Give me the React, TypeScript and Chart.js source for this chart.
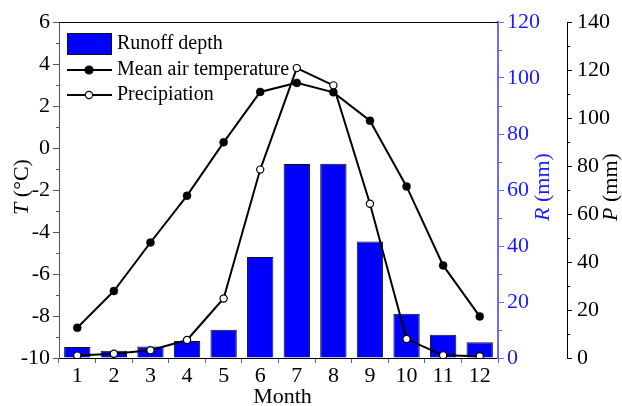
import React, { useEffect, useRef } from 'react';
import { Chart, registerables } from 'chart.js';

Chart.register(...registerables);

const months = ['1', '2', '3', '4', '5', '6', '7', '8', '9', '10', '11', '12'];
const runoffDepth = [3.9, 2.6, 4.1, 6.1, 10.1, 36.1, 69.3, 69.4, 41.6, 15.8, 8.3, 5.6];
const meanAirTemperature = [-8.56, -6.81, -4.5, -2.27, 0.27, 2.67, 3.1, 2.65, 1.3, -1.83, -5.59, -8.02];
const precipitation = [1.0, 1.8, 3.2, 7.5, 24.8, 78.5, 120.8, 113.6, 64.3, 7.9, 1.1, 0.7];
const seriesNames = ['Runoff depth', 'Mean air temperature', 'Precipiation'];
const tAxis = { min: -10, max: 6, step: 2 };
const rAxis = { min: 0, max: 120, step: 20 };
const pAxis = { min: 0, max: 140, step: 20 };

const FONT = '"Liberation Serif", "Times New Roman", serif';
const BLUE = '#0000ff';
const BLUE_TEXT = '#1a1aff';
const BLUE_AXIS = '#6b6bff';

const decorPlugin = {
  id: 'decor',
  afterDraw(chart: any) {
    const ctx = chart.ctx;
    const ca = chart.chartArea;
    const sT = chart.scales.y;
    const sR = chart.scales.yR;
    const sP = chart.scales.yP;
    ctx.save();
    // top frame line
    ctx.strokeStyle = '#000';
    ctx.lineWidth = 1;
    ctx.beginPath();
    ctx.moveTo(ca.left, ca.top + 0.5);
    ctx.lineTo(ca.right, ca.top + 0.5);
    ctx.stroke();

    // minor ticks
    const minor = (scale: any, ax: any, x: number, dir: number, color: string) => {
      ctx.strokeStyle = color;
      ctx.lineWidth = 1;
      for (let v = ax.min + ax.step / 2; v < ax.max; v += ax.step) {
        const y = Math.round(scale.getPixelForValue(v)) + 0.5;
        ctx.beginPath();
        ctx.moveTo(x, y);
        ctx.lineTo(x + dir * 3, y);
        ctx.stroke();
      }
    };
    minor(sT, tAxis, sT.right, -1, '#555');
    minor(sR, rAxis, sR.left + 1, 1, BLUE_AXIS);
    minor(sP, pAxis, sP.left, 1, '#000');

    // axis titles
    const midY = (ca.top + ca.bottom) / 2 - 3;
    const vTitle = (x: number, italic: string, rest: string, color: string) => {
      ctx.save();
      ctx.translate(x, midY);
      ctx.rotate(-Math.PI / 2);
      ctx.fillStyle = color;
      ctx.textBaseline = 'middle';
      ctx.font = `italic 22px ${FONT}`;
      const w1 = ctx.measureText(italic).width;
      ctx.font = `22px ${FONT}`;
      const w2 = ctx.measureText(rest).width;
      const start = -(w1 + w2) / 2;
      ctx.font = `italic 22px ${FONT}`;
      ctx.textAlign = 'left';
      ctx.fillText(italic, start, 0);
      ctx.font = `22px ${FONT}`;
      ctx.fillText(rest, start + w1, 0);
      ctx.restore();
    };
    vTitle(22, 'T', ' (°C)', '#000');
    vTitle(543, 'R', ' (mm)', BLUE_TEXT);
    vTitle(611, 'P', ' (mm)', '#000');

    ctx.fillStyle = '#000';
    ctx.font = `22px ${FONT}`;
    ctx.textAlign = 'center';
    ctx.textBaseline = 'middle';
    ctx.fillText('Month', (ca.left + ca.right) / 2 + 4, 397);

    // legend
    const lx = ca.left + 8;
    const tx = lx + 50;
    const r1 = ca.top + 22;
    const r2 = ca.top + 48;
    const r3 = ca.top + 73;
    ctx.fillStyle = BLUE;
    ctx.fillRect(lx, r1 - 11, 45, 22);
    ctx.strokeStyle = '#111';
    ctx.lineWidth = 1;
    ctx.strokeRect(lx + 0.5, r1 - 11 + 0.5, 44, 21);
    ctx.strokeStyle = '#000';
    ctx.lineWidth = 2;
    [r2, r3].forEach((y, i) => {
      ctx.beginPath();
      ctx.moveTo(lx, y);
      ctx.lineTo(lx + 45, y);
      ctx.stroke();
      ctx.beginPath();
      ctx.arc(lx + 22, y, i === 0 ? 4 : 3.6, 0, Math.PI * 2);
      ctx.fillStyle = i === 0 ? '#000' : '#fff';
      ctx.fill();
      ctx.lineWidth = 1.2;
      ctx.stroke();
      ctx.lineWidth = 2;
    });
    ctx.fillStyle = '#000';
    ctx.font = `20px ${FONT}`;
    ctx.textAlign = 'left';
    ctx.textBaseline = 'middle';
    ctx.fillText(seriesNames[0], tx, r1);
    ctx.fillText(seriesNames[1], tx, r2);
    ctx.fillText(seriesNames[2], tx, r3);
    ctx.restore();
  },
};

export default function App() {
  const ref = useRef<HTMLCanvasElement | null>(null);
  useEffect(() => {
    if (!ref.current) return;
    const tickFont = { family: FONT, size: 22 };
    const chart = new Chart(ref.current, {
      data: {
        labels: months,
        datasets: [
          {
            type: 'bar',
            label: seriesNames[0],
            data: runoffDepth,
            yAxisID: 'yR',
            backgroundColor: BLUE,
            borderColor: '#111',
            borderWidth: 1,
            barPercentage: 0.72,
            categoryPercentage: 1,
            order: 3,
          },
          {
            type: 'line',
            label: seriesNames[1],
            data: meanAirTemperature,
            yAxisID: 'y',
            borderColor: '#000',
            borderWidth: 2,
            pointRadius: 4,
            pointBackgroundColor: '#000',
            pointBorderColor: '#000',
            pointBorderWidth: 0.5,
            tension: 0,
            order: 2,
          },
          {
            type: 'line',
            label: seriesNames[2],
            data: precipitation,
            yAxisID: 'yP',
            borderColor: '#000',
            borderWidth: 2,
            pointRadius: 3.6,
            pointBackgroundColor: '#fff',
            pointBorderColor: '#000',
            pointBorderWidth: 1.2,
            tension: 0,
            order: 1,
          },
        ],
      } as any,
      options: {
        animation: false,
        responsive: true,
        maintainAspectRatio: false,
        devicePixelRatio: 1,
        layout: { padding: { top: 22, left: 0, right: 0, bottom: 0 } },
        plugins: { legend: { display: false }, tooltip: { enabled: false } },
        scales: {
          x: {
            type: 'category',
            offset: true,
            grid: { drawOnChartArea: false, drawTicks: true, tickLength: 5, tickColor: '#666' },
            border: { color: '#000', width: 1 },
            ticks: { font: tickFont, color: '#000', padding: 0, maxRotation: 0 },
            afterFit: (s: any) => { s.height = 48; },
          },
          y: {
            position: 'left',
            min: tAxis.min,
            max: tAxis.max,
            grid: { drawOnChartArea: false, drawTicks: true, tickLength: 6, tickColor: '#555' },
            border: { color: '#555', width: 1 },
            ticks: { stepSize: tAxis.step, font: tickFont, color: '#000', padding: 3 },
            afterFit: (s: any) => { s.width = 59; },
          },
          yR: {
            position: 'right',
            weight: 0,
            min: rAxis.min,
            max: rAxis.max,
            grid: { drawOnChartArea: false, drawTicks: true, tickLength: 6, tickColor: BLUE_AXIS },
            border: { color: BLUE_AXIS, width: 2 },
            ticks: { stepSize: rAxis.step, font: tickFont, color: BLUE_TEXT, padding: 3 },
            afterFit: (s: any) => { s.width = 69; },
          },
          yP: {
            position: 'right',
            weight: 1,
            min: pAxis.min,
            max: pAxis.max,
            grid: { drawOnChartArea: false, drawTicks: true, tickLength: 5, tickColor: '#000' },
            border: { color: '#000', width: 1 },
            ticks: { stepSize: pAxis.step, font: tickFont, color: '#000', padding: 5 },
            afterFit: (s: any) => { s.width = 55; },
          },
        },
      } as any,
      plugins: [decorPlugin],
    });
    return () => chart.destroy();
  }, []);
  return (
    <div style={{ position: 'absolute', left: 0, top: 0, width: 622, height: 406, background: '#fff' }}>
      <canvas ref={ref} />
    </div>
  );
}
